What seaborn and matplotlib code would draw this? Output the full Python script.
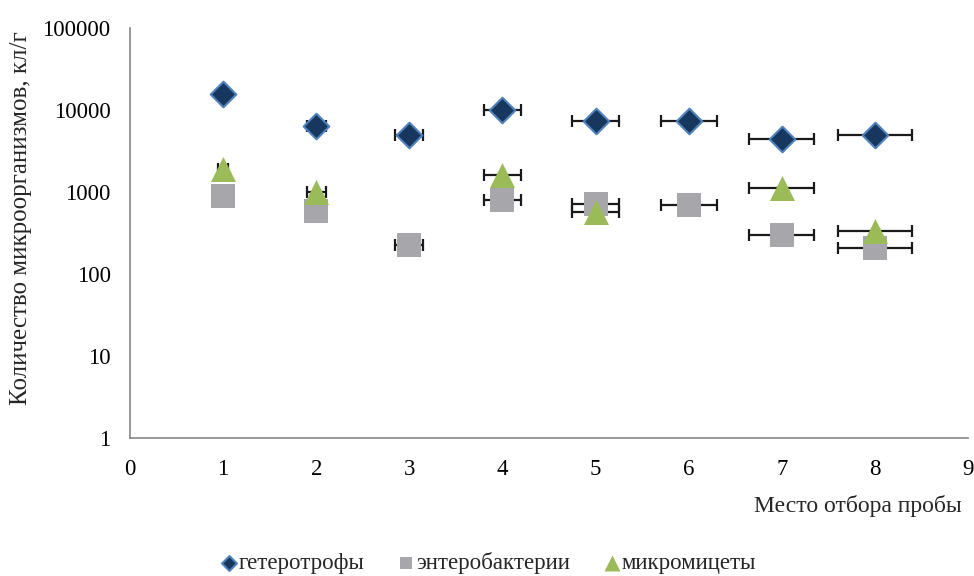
import matplotlib.pyplot as plt
import seaborn as sns
import numpy as np
import pandas as pd

sns.set_style('white')
plt.rcParams['font.family'] = ['Liberation Serif', 'DejaVu Serif']

# место отбора пробы
place = [1, 2, 3, 4, 5, 6, 7, 8]
geterotrofy = [15500, 6300, 5000, 10000, 7300, 7300, 4400, 5000]
enterobakterii = [900, 580, 225, 800, 710, 700, 295, 210]
mikromicety = [1900, 1000, np.nan, 1600, 570, np.nan, 1120, 335]
x_err = [0.05, 0.1, 0.15, 0.2, 0.25, 0.3, 0.35, 0.4]

y_ticks = [1, 10, 100, 1000, 10000, 100000]
x_ticks = [0, 1, 2, 3, 4, 5, 6, 7, 8, 9]

df = pd.DataFrame({'place': place, 'get': geterotrofy,
                   'ent': enterobakterii, 'mik': mikromicety})

fig = plt.figure(figsize=(9.74, 5.76), dpi=100)
ax = fig.add_axes([0.1335, 0.2396, 0.8603, 0.7118])

gray = '#868686'

# error bars first, markers over them
for col in ['get', 'ent', 'mik']:
    ax.errorbar(df['place'], df[col], xerr=x_err, fmt='none', ecolor='#1a1a1a',
                elinewidth=1.6, capsize=4, capthick=1.6, zorder=1)

sns.scatterplot(data=df, x='place', y='get', marker='D', s=170, color='#17375e',
                edgecolor='#4f81bd', linewidth=1.5, label='гетеротрофы', ax=ax, zorder=5)
sns.scatterplot(data=df, x='place', y='ent', marker='s', s=286, color='#a7a7ab',
                linewidth=0, label='энтеробактерии', ax=ax, zorder=5)
sns.scatterplot(data=df, x='place', y='mik', marker='^', s=324, color='#9bbb59',
                linewidth=0, label='микромицеты', ax=ax, zorder=6)

ax.set_yscale('log')
ax.set_ylim(1, 100000)
ax.set_yticks(y_ticks)
ax.set_yticklabels([str(t) for t in y_ticks])
ax.minorticks_off()
ax.set_xlim(0, 9)
ax.set_xticks(x_ticks)
ax.set_xticklabels([str(t) for t in x_ticks])

for s in ['top', 'right']:
    ax.spines[s].set_visible(False)
for s in ['left', 'bottom']:
    ax.spines[s].set_color(gray)
    ax.spines[s].set_linewidth(1.2)
ax.tick_params(axis='both', direction='out', length=6, width=1.2, color=gray,
               labelsize=16.5, labelcolor='black')
ax.tick_params(axis='y', pad=8)
ax.tick_params(axis='x', pad=9)

ax.set_ylabel('Количество микроорганизмов, кл/г', fontsize=18)
ax.yaxis.set_label_coords(-0.117, 0.537)
ax.set_xlabel('Место отбора пробы', fontsize=17, loc='right')
ax.xaxis.set_label_coords(0.993, -0.138)

handles, labels = ax.get_legend_handles_labels()
if ax.get_legend() is not None:
    ax.get_legend().remove()
leg = fig.legend(handles, labels, loc='lower center', bbox_to_anchor=(0.502, -0.033),
                 ncol=3, frameon=False, handlelength=0.6, handletextpad=0.13,
                 columnspacing=1.53, fontsize=16.5)
for h, size in zip(leg.legend_handles, [58, 75, 132]):
    h.set_sizes([size])

fig.savefig('out.png', dpi=100)
